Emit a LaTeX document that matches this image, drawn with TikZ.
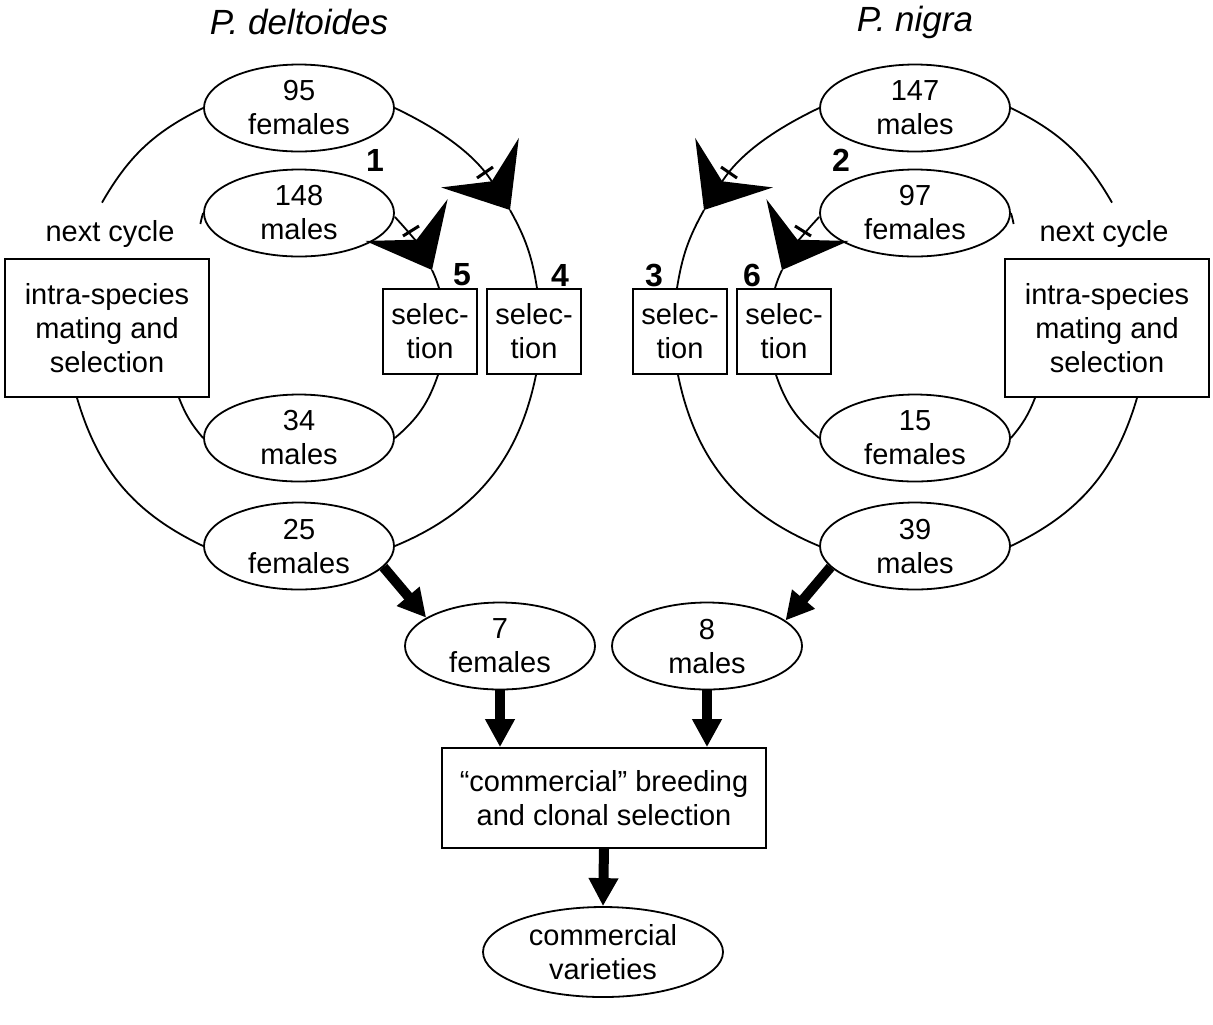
\documentclass[tikz,border=0pt]{standalone}
\usepackage{fontspec}
\setmainfont{Liberation Sans}
\usetikzlibrary{shapes.geometric, arrows.meta}

\begin{document}
\begin{tikzpicture}[x=0.5pt, y=-0.5pt,
        every node/.style={font=\fontsize{14.5}{17}\selectfont, align=center},
        pop/.style={ellipse, draw, fill=white, line width=0.9pt, inner sep=0pt, minimum width=95pt, minimum height=43.5pt},
        box/.style={rectangle, draw, fill=white, line width=0.9pt, inner sep=0pt},
        selbox/.style={box, minimum width=47pt, minimum height=42.5pt},
        num/.style={font=\fontsize{16}{19}\selectfont\bfseries},
        title/.style={font=\fontsize{17.5}{20}\selectfont\itshape},
        ring/.style={line width=0.9pt},
        cross/.style={ring, -{Stealth[length=28pt, width=46pt, inset=11pt]}},
        tickline/.style={line width=1.5pt},
        bigarrow/.style={line width=5pt, -{Triangle[length=14pt, width=14pt]}}]
        \useasboundingbox (0,0) rectangle (1213,1024);

        \node[title] (tdel) at (299,22) {P. deltoides};
        \node[title] (tnig) at (915,22) {P. nigra};

        % P. deltoides
        \node[pop] (f95) at (299,108) {95\\females};
        \node[pop] (m148) at (299,213) {148\\males};
        \node[pop] (m34) at (299,438) {34\\males};
        \node[pop] (f25) at (299,546) {25\\females};
        \node[box, minimum width=102pt, minimum height=69pt] (intraL) at (107,328) {intra-species\\mating and\\selection};
        \node[minimum width=90pt, minimum height=31pt, inner sep=0pt] (nextL) at (110,234) {next cycle};
        \node[selbox] (sel5) at (430,331.5) {selec-\\tion};
        \node[selbox] (sel4) at (534,331.5) {selec-\\tion};

        % P. nigra
        \node[pop] (m147) at (915,108) {147\\males};
        \node[pop] (f97) at (915,213) {97\\females};
        \node[pop] (f15) at (915,438) {15\\females};
        \node[pop] (m39) at (915,546) {39\\males};
        \node[box, minimum width=102pt, minimum height=69pt] (intraR) at (1107,328) {intra-species\\mating and\\selection};
        \node[minimum width=90pt, minimum height=31pt, inner sep=0pt] (nextR) at (1104,234) {next cycle};
        \node[selbox] (sel3) at (680,331.5) {selec-\\tion};
        \node[selbox] (sel6) at (784,331.5) {selec-\\tion};

        \foreach \n/\x/\y in {1/375/160, 2/841/160, 5/462/275, 4/560/275, 3/654/275, 6/752/275}
            \node[num] (lab\n) at (\x,\y) {\n};

        % bottom
        \node[pop] (f7) at (500,646) {7\\females};
        \node[pop] (m8) at (707,646) {8\\males};
        \node[box, minimum width=162pt, minimum height=50pt] (breed) at (604,798) {“commercial” breeding\\and clonal selection};
        \node[pop, minimum width=120pt, minimum height=45pt] (vari) at (603,952) {commercial\\varieties};

        \coordinate (t1) at (510,210);
        \coordinate (t2) at (432,270);
        \coordinate (t3) at (704,210);
        \coordinate (t4) at (782,270);

        % outer and inner cycles, left
        \draw[cross] (f95.east) to[bend left=16] (t1);
        \draw[ring] (t1) to[bend left=10] ([xshift=1.5pt]sel4.north);
        \draw[ring] ([xshift=1pt]sel4.south) to[bend left=28] (f25.east);
        \draw[ring] (f25.west) to[bend left=24] ([xshift=-15pt]intraL.south);
        \draw[ring] ([xshift=-4pt]nextL.north) to[bend left=17] (f95.west);
        \draw[cross] ([yshift=-2pt]m148.east) to[bend left=8] (t2);
        \draw[ring] (t2) to[bend left=4] ([xshift=4.5pt]sel5.north);
        \draw[ring] ([xshift=4pt]sel5.south) to[bend left=15.4] (m34.east);
        \draw[ring] (m34.west) to[bend left=9.6] ([xshift=36pt]intraL.south);
        \draw[ring] ([yshift=5pt]nextL.east) to[bend left=3] (m148.west);

        % outer and inner cycles, right
        \draw[cross] (m147.west) to[bend right=16] (t3);
        \draw[ring] (t3) to[bend right=10] ([xshift=-1.5pt]sel3.north);
        \draw[ring] ([xshift=-1pt]sel3.south) to[bend right=28] (m39.west);
        \draw[ring] (m39.east) to[bend right=24] ([xshift=15pt]intraR.south);
        \draw[ring] ([xshift=4pt]nextR.north) to[bend right=17] (m147.east);
        \draw[cross] ([yshift=-2pt]f97.west) to[bend right=8] (t4);
        \draw[ring] (t4) to[bend right=4] ([xshift=-4.5pt]sel6.north);
        \draw[ring] ([xshift=-4pt]sel6.south) to[bend right=15.4] (f15.west);
        \draw[ring] (f15.east) to[bend right=9.6] ([xshift=-36pt]intraR.south);
        \draw[ring] ([yshift=5pt]nextR.west) to[bend right=3] (f97.east);

        % ticks before the crossing arrows
        \draw[tickline] (477,178) -- (493,167);
        \draw[tickline] (403,236) -- (419,226);
        \draw[tickline] (737,178) -- (721,167);
        \draw[tickline] (811,236) -- (795,226);

        % breeding flow
        \draw[bigarrow] (f25.-14) -- (f7.159);
        \draw[bigarrow] (m39.194) -- (m8.18);
        \draw[bigarrow] (f7.south) -- (f7.south |- breed.north);
        \draw[bigarrow] (m8.south) -- (m8.south |- breed.north);
        \draw[bigarrow] (breed.south) -- (vari.north);
    \end{tikzpicture}
\end{document}
